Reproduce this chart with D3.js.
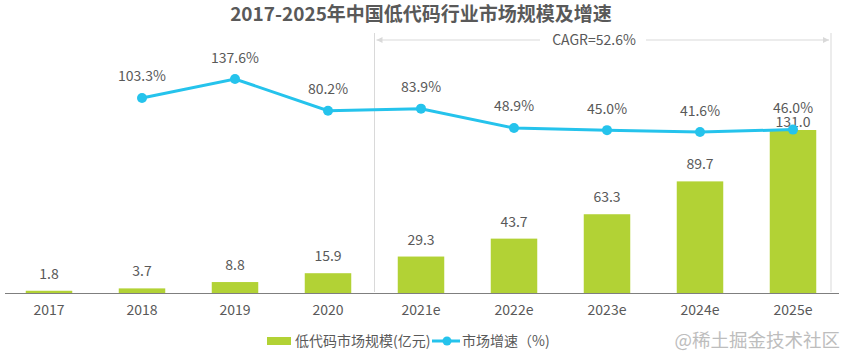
<!DOCTYPE html>
<html><head><meta charset="utf-8">
<script src="https://cdn.jsdelivr.net/npm/d3@7"></script>
<style>body{margin:0;background:#fff}svg{display:block}text{font-family:"Microsoft YaHei","Noto Sans CJK SC","Noto Sans",sans-serif}</style>
</head><body><svg id="c" width="844" height="358"></svg>
<script>
const categories = ["2017","2018","2019","2020","2021e","2022e","2023e","2024e","2025e"];
const marketSize = [1.8,3.7,8.8,15.9,29.3,43.7,63.3,89.7,131.0];
const growth = [null,103.3,137.6,80.2,83.9,48.9,45.0,41.6,46.0];
const titleText = "2017-2025年中国低代码行业市场规模及增速";
const cagrText = "CAGR=52.6%";
const legendNames = ["低代码市场规模(亿元)","市场增速（%)"];
const watermark = "@稀土掘金技术社区";

const barColor = "#b2d235", lineColor = "#25c3ec", textColor = "#595959";
const svg = d3.select("#c");
const x = d3.scaleBand().domain(categories).range([2.5, 839.5]).paddingInner(0.5).paddingOuter(0.25);
const yBar = d3.scaleLinear().domain([0, 131]).range([293, 130]);
const yLine = d3.scaleLinear().domain([0, 137.6]).range([155, 79]);
const cx = d => x(d) + x.bandwidth()/2;

svg.append("text").attr("x",421).attr("y",21).attr("text-anchor","middle")
  .attr("font-size",19).attr("font-weight","bold").attr("fill",textColor).text(titleText);

// CAGR bracket
const bx0 = (x("2020")+x.bandwidth()+x("2021e"))/2 , bx1 = 831;
const g = svg.append("g").attr("stroke","#d9d9d9").attr("fill","none");
g.append("line").attr("x1",bx0).attr("x2",bx0).attr("y1",33).attr("y2",292);
g.append("line").attr("x1",bx1).attr("x2",bx1).attr("y1",33).attr("y2",292);
g.append("line").attr("x1",bx0+2).attr("x2",540).attr("y1",40).attr("y2",40);
g.append("line").attr("x1",646).attr("x2",bx1-2).attr("y1",40).attr("y2",40);
svg.append("path").attr("d",`M${bx0+2},40 l6,-3 v6 z`).attr("fill","#d9d9d9");
svg.append("path").attr("d",`M${bx1-2},40 l-6,-3 v6 z`).attr("fill","#d9d9d9");
svg.append("text").attr("x",594).attr("y",45).attr("text-anchor","middle").attr("font-size",14).attr("fill",textColor).text(cagrText);

// bars
svg.selectAll("rect.bar").data(categories).join("rect").attr("class","bar")
  .attr("x",d=>x(d)).attr("width",x.bandwidth())
  .attr("y",(d,i)=>yBar(marketSize[i])).attr("height",(d,i)=>293-yBar(marketSize[i])).attr("fill",barColor);
svg.selectAll("text.bl").data(categories).join("text").attr("class","bl")
  .attr("x",cx).attr("y",(d,i)=>Math.max(yBar(marketSize[i])-12, 127)).attr("text-anchor","middle")
  .attr("font-size",14).attr("fill",textColor).text((d,i)=>marketSize[i].toFixed(1));

// axis
const ax = svg.append("g").attr("transform","translate(0,293)").call(d3.axisBottom(x).tickSize(0).tickPadding(12));
ax.select(".domain").attr("stroke","#7f7f7f").attr("d","M5,0.5H839");
ax.selectAll("text").attr("font-size",14).attr("fill",textColor).attr("font-family",'"Microsoft YaHei","Noto Sans CJK SC",sans-serif');

// line
const pts = categories.map((c,i)=>({c,v:growth[i]})).filter(d=>d.v!=null);
svg.append("path").datum(pts).attr("fill","none").attr("stroke",lineColor).attr("stroke-width",3)
  .attr("d",d3.line().x(d=>cx(d.c)).y(d=>yLine(d.v)));
svg.selectAll("circle.pt").data(pts).join("circle").attr("class","pt")
  .attr("cx",d=>cx(d.c)).attr("cy",d=>yLine(d.v)).attr("r",5).attr("fill",lineColor);
svg.selectAll("text.pl").data(pts).join("text").attr("class","pl")
  .attr("x",d=>cx(d.c)).attr("y",d=>yLine(d.v)-16.5).attr("text-anchor","middle")
  .attr("font-size",14).attr("fill",textColor).text(d=>d.v.toFixed(1)+"%");

// legend
svg.append("rect").attr("x",267).attr("y",337).attr("width",24).attr("height",8).attr("fill",barColor);
svg.append("text").attr("x",295).attr("y",346).attr("font-size",14).attr("fill",textColor).text(legendNames[0]);
svg.append("line").attr("x1",432).attr("x2",460).attr("y1",341).attr("y2",341).attr("stroke",lineColor).attr("stroke-width",3);
svg.append("circle").attr("cx",447).attr("cy",341).attr("r",4.5).attr("fill",lineColor);
svg.append("text").attr("x",462).attr("y",346).attr("font-size",14).attr("fill",textColor).text(legendNames[1]);
svg.append("text").attr("x",840).attr("y",347).attr("text-anchor","end").attr("font-size",18.5).attr("fill","#bdbdbd").text(watermark);
</script></body></html>
